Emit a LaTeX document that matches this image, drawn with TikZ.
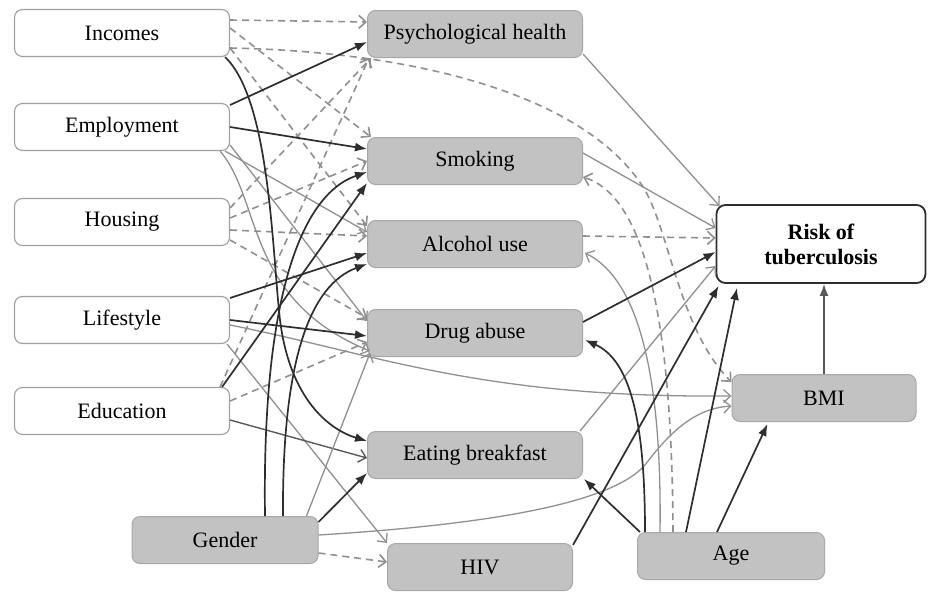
\documentclass[tikz,border=0pt]{standalone}
\usepackage{fontspec}
\setmainfont{Liberation Serif}
\usetikzlibrary{arrows.meta,calc}
\definecolor{boxgray}{HTML}{C2C2C2}
\definecolor{boxedge}{HTML}{A8A8A8}
\definecolor{wedge}{HTML}{A0A0A0}
\definecolor{blk}{HTML}{2E2E2E}
\definecolor{gry}{HTML}{909090}
\definecolor{dgry}{HTML}{5A5A5A}
\begin{document}
\begin{tikzpicture}[x=1pt,y=-1pt,
  every node/.style={font=\fontsize{22}{25}\selectfont, inner sep=0pt},
  wbox/.style={draw=wedge, line width=1.1pt, fill=white, rounded corners=8pt, minimum width=215pt, minimum height=47pt},
  gbox/.style={draw=boxedge, line width=1pt, fill=boxgray, rounded corners=8pt, minimum width=215pt, minimum height=47pt},
  rbox/.style={draw=blk, line width=1.8pt, fill=white, rounded corners=9pt, minimum width=209pt, minimum height=78pt, align=center, font=\fontsize{22}{25}\selectfont\bfseries},
  blkarr/.style={draw=blk, line width=1.7pt, -{Latex[length=12pt,width=9pt]}},
  dgryarr/.style={draw=dgry, line width=1.4pt, -{Straight Barb[length=7pt,width=13pt]}},
  gryarr/.style={draw=gry, line width=1.3pt, -{Straight Barb[length=7pt,width=13pt]}},
  dsharr/.style={draw=gry, line width=1.6pt, dash pattern=on 7pt off 5pt, -{Straight Barb[length=7pt,width=13pt]}},
  plainblk/.style={draw=blk, line width=1.7pt}
]
\useasboundingbox (0,0) rectangle (928,592);
% left white boxes
\node[wbox] (inc) at (122,33) {Incomes};
\node[wbox] (emp) at (122,127) {Employment};
\node[wbox] (hou) at (122,222) {Housing};
\node[wbox] (lif) at (122,320) {Lifestyle};
\node[wbox] (edu) at (122,411) {Education};
% middle gray boxes
\node[gbox] (psy) at (475,34) {Psychological health};
\node[gbox] (smo) at (475,161) {Smoking};
\node[gbox] (alc) at (475,244) {Alcohol use};
\node[gbox] (drg) at (475,333) {Drug abuse};
\node[gbox] (eat) at (475,455) {Eating breakfast};
\node[gbox, minimum width=185pt] (hiv) at (480,567) {HIV};
\node[gbox, minimum width=186pt] (gen) at (225,540) {Gender};
\node[gbox, minimum width=187pt] (age) at (731,556) {Age};
\node[gbox, minimum width=184pt] (bmi) at (824,398) {BMI};
\node[rbox] (risk) at (821,244) {Risk of\\tuberculosis};

% dashed connectors
\draw[dsharr] ($(inc.east)+(0,-13)$) -- ($(psy.west)+(0,-12)$);
\draw[dsharr] ($(inc.east)+(0,-5)$) -- ($(smo.north west)+(4,0)$);
\draw[dsharr] ($(inc.east)+(0,15)$) -- ($(alc.west)+(0,-18)$);
\draw[dsharr] ($(inc.east)+(0,15)$) .. controls (430,52) and (590,100) .. (645,190)
   .. controls (670,235) and (680,330) .. ($(bmi.west)+(0,-16)$);
\draw[dsharr] ($(age.north)+(-58,0)$) .. controls (672,300) and (640,195) .. ($(smo.east)+(0,16)$);
\draw[dsharr] ($(hou.east)+(0,-14)$) -- ($(psy.south west)+(4,0)$);
\draw[dsharr] ($(hou.east)+(0,-4)$) -- (smo.west);
\draw[dsharr] ($(hou.east)+(0,8)$) -- ($(alc.west)+(0,-8)$);
\draw[dsharr] ($(hou.east)+(0,18)$) -- ($(drg.west)+(0,-15)$);
\draw[dsharr] ($(edu.north east)+(-10,0)$) -- ($(psy.south west)+(2,0)$);
\draw[dsharr] ($(edu.east)+(0,-10)$) -- ($(drg.west)+(0,9)$);
\draw[dsharr] ($(gen.east)+(0,13)$) -- ($(hiv.west)+(0,-5)$);
\draw[dsharr] ($(alc.east)+(0,-8)$) -- ($(risk.west)+(0,-6)$);

% gray connectors
\draw[gryarr] ($(psy.east)+(0,20)$) -- ($(risk.north west)+(4,2)$);
\draw[gryarr] ($(smo.east)+(0,-8)$) -- ($(risk.west)+(0,-16)$);
\draw[gryarr] ($(eat.north east)+(-3,0)$) -- ($(risk.west)+(0,22)$);
\draw[gryarr] ($(gen.east)+(0,-5)$) .. controls (480,525) and (610,505) .. (645,465)
   .. controls (675,425) and (700,408) .. ($(bmi.west)+(0,8)$);
\draw[gryarr] ($(lif.east)+(0,5)$) .. controls (380,355) and (480,398) .. ($(bmi.west)+(0,-2)$);
\draw[gryarr] ($(emp.south east)+(-5,0)$) -- ($(alc.west)+(0,-12)$);
\draw[gryarr] ($(emp.east)+(0,18)$) -- ($(drg.west)+(0,-12)$);
\draw[gryarr] ($(emp.south east)+(-10,0)$) .. controls (262,200) and (245,300) .. ($(drg.south west)+(3,-6)$);
\draw[gryarr] ($(lif.south east)+(-3,0)$) -- (hiv.north west);
\draw[dgryarr] ($(edu.east)+(0,9)$) -- ($(eat.west)+(0,3)$);
\draw[gryarr] ($(gen.north east)+(-12,0)$) -- ($(drg.south west)+(3,-4)$);
\draw[gryarr] ($(age.north)+(-71,0)$) .. controls (662,380) and (640,280) .. ($(alc.east)+(2,9)$);

% black connectors
\draw[blkarr] ($(emp.east)+(0,-22)$) -- ($(psy.west)+(0,8)$);
\draw[blkarr] (emp.east) -- ($(smo.west)+(0,-12)$);
\draw[blkarr] ($(lif.east)+(0,-22)$) -- ($(alc.west)+(0,9)$);
\draw[blkarr] (lif.east) -- ($(drg.west)+(0,3)$);
\draw[blkarr] ($(edu.north east)+(-8,0)$) -- ($(smo.south west)+(0,-2)$);
\draw[blkarr] ($(gen.north)+(58,0)$) .. controls (282,360) and (310,285) .. ($(alc.west)+(0,20)$);
\draw[blkarr] ($(gen.north)+(40,0)$) .. controls (262,300) and (300,195) .. ($(smo.west)+(0,11)$);
\draw[blkarr] ($(inc.south east)+(-5,0)$) .. controls (270,100) and (272,250) .. (280,320)
   .. controls (290,400) and (330,430) .. ($(eat.west)+(0,-14)$);
\draw[blkarr] ($(gen.east)+(0,-18)$) -- ($(eat.south west)+(0,-6)$);
\draw[blkarr] ($(drg.east)+(0,-11)$) -- ($(risk.west)+(0,8)$);
\draw[blkarr] ($(hiv.north east)+(0,2)$) -- ($(risk.south west)+(3,2)$);
\draw[blkarr] ($(age.north)+(-45,0)$) -- ($(risk.south)+(-84,4)$);
\draw[blkarr] ($(age.north)+(-86,0)$) .. controls (645,420) and (630,360) .. ($(drg.east)+(2,7)$);
\draw[blkarr] ($(age.north west)+(3,0)$) -- ($(eat.south east)+(1,0)$);
\draw[blkarr] ($(age.north)+(-14,0)$) -- ($(bmi.south west)+(36,2)$);
\draw[blkarr, draw=dgry] (bmi.north) -- (bmi.north |- risk.south);
\end{tikzpicture}
\end{document}
